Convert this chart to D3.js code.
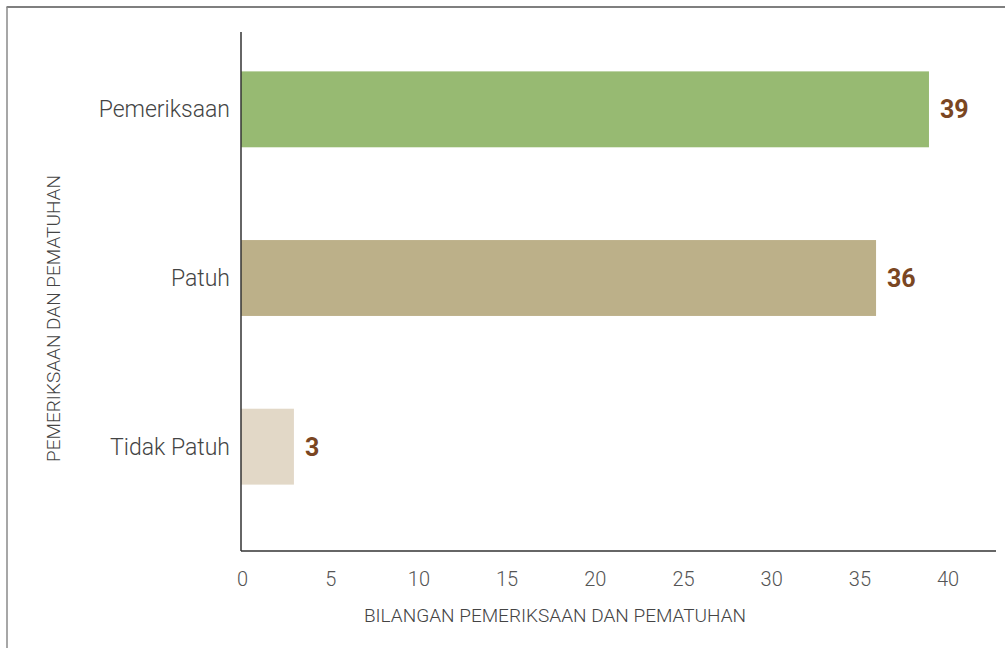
<!DOCTYPE html>
<html>
<head>
<meta charset="utf-8">
<script src="https://cdn.jsdelivr.net/npm/d3@7"></script>
<style>
  html, body { margin: 0; padding: 0; background: #fff; }
  svg { display: block; }
</style>
</head>
<body>
<svg id="chart" width="1005" height="648"></svg>
<script>
const categories = ["Pemeriksaan", "Patuh", "Tidak Patuh"];
const values = [39, 36, 3];
const barColors = ["#97BA72", "#BCB089", "#E2D8C7"];
const xTicks = [0, 5, 10, 15, 20, 25, 30, 35, 40];
const xTitle = "BILANGAN PEMERIKSAAN DAN PEMATUHAN";
const yTitle = "PEMERIKSAAN DAN PEMATUHAN";

const svg = d3.select("#chart");
const plot = { left: 241, right: 996, top: 32, bottom: 551 };

// figure frame
svg.append("line").attr("x1", 6.5).attr("x2", 1005).attr("y1", 7).attr("y2", 7)
  .attr("stroke", "#555").attr("stroke-width", 1.5);
svg.append("line").attr("x1", 7).attr("x2", 7).attr("y1", 7).attr("y2", 648)
  .attr("stroke", "#8a8a8a").attr("stroke-width", 1.5);

const x = d3.scaleLinear().domain([0, 42.8]).range([plot.left, plot.right]);
const y = d3.scaleBand().domain(categories).range([25, 531])
  .paddingInner(0.55).paddingOuter(0.275);

// bars
svg.append("g").selectAll("rect").data(categories).join("rect")
  .attr("x", x(0))
  .attr("y", d => y(d))
  .attr("width", (d, i) => x(values[i]) - x(0))
  .attr("height", y.bandwidth())
  .attr("fill", (d, i) => barColors[i]);

// value labels
svg.append("g").selectAll("text").data(categories).join("text")
  .attr("x", (d, i) => x(values[i]) + 11)
  .attr("y", d => y(d) + y.bandwidth() / 2 + 9)
  .attr("font-family", "Roboto, sans-serif")
  .attr("font-weight", 700)
  .attr("font-size", 25)
  .attr("fill", "#7A4622")
  .text((d, i) => values[i]);

// x axis
const xAxis = d3.axisBottom(x).tickValues(xTicks).tickSize(0).tickPadding(21);
const gx = svg.append("g").attr("transform", `translate(0,${plot.bottom})`).call(xAxis);
gx.select(".domain").attr("d", `M${plot.left},0H${plot.right}`).attr("stroke", "#333").attr("stroke-width", 1.5);
gx.selectAll("text").attr("font-family", "Roboto, sans-serif").attr("font-weight", 300)
  .attr("font-size", 20).attr("fill", "#555").attr("dx", 1);

// y axis
const yAxis = d3.axisLeft(y).tickSize(0).tickPadding(11);
const gy = svg.append("g").attr("transform", `translate(${plot.left},0)`).call(yAxis);
gy.select(".domain").attr("d", `M0,${plot.top}V${plot.bottom}`).attr("stroke", "#333").attr("stroke-width", 1.5);
gy.selectAll("text").attr("font-family", "Roboto, sans-serif").attr("font-weight", 300)
  .attr("font-size", 23).attr("fill", "#444").attr("dy", "0.35em");

// axis titles
svg.append("text")
  .attr("x", 555).attr("y", 622)
  .attr("text-anchor", "middle")
  .attr("font-family", "Roboto, sans-serif").attr("font-weight", 300)
  .attr("font-size", 19).attr("fill", "#444")
  .text(xTitle);

svg.append("text")
  .attr("transform", "translate(59.5,318.5) rotate(-90)")
  .attr("text-anchor", "middle")
  .attr("font-family", "Roboto, sans-serif").attr("font-weight", 300)
  .attr("font-size", 19).attr("fill", "#444")
  .text(yTitle);
</script>
</body>
</html>
